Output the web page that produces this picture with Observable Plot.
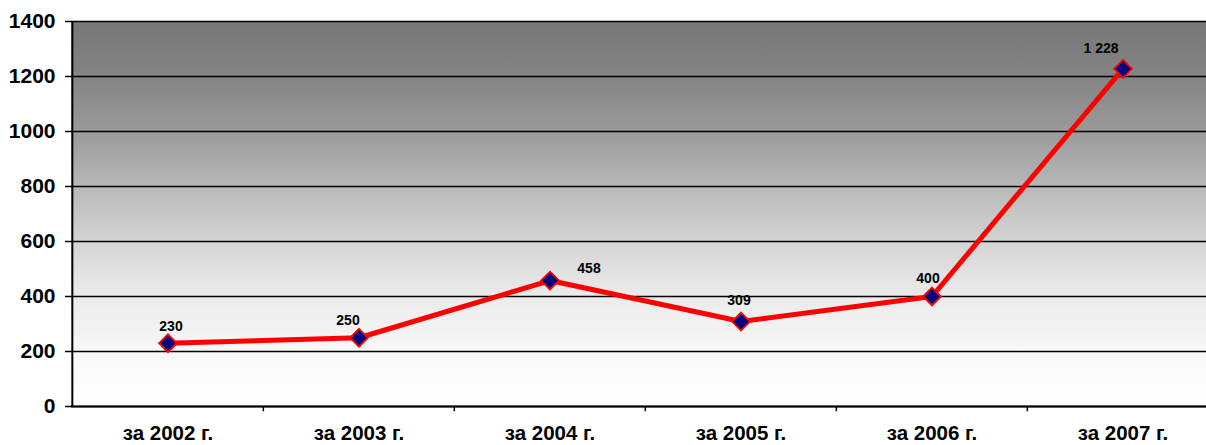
<!DOCTYPE html>
<html><head><meta charset="utf-8">
<script src="https://cdn.jsdelivr.net/npm/d3@7"></script>
<script src="https://cdn.jsdelivr.net/npm/@observablehq/plot@0.6"></script>
<style>html,body{margin:0;padding:0;overflow:hidden;background:#fff} svg{max-width:none !important;}</style>
</head><body><div id="chart"></div>
<script>
const years = ["за 2002 г.", "за 2003 г.", "за 2004 г.", "за 2005 г.", "за 2006 г.", "за 2007 г."];
const values = [230, 250, 458, 309, 400, 1228];
const valueLabels = ["230", "250", "458", "309", "400", "1 228"];
const yTicks = [0, 200, 400, 600, 800, 1000, 1200, 1400];

// label offsets (pixels) relative to each marker
const labelDx = [3, -11, 39, -2, -4, -22];
const labelDy = [-17, -17, -12, -21, -18, -20];

const data = years.map((y, i) => ({year: y, value: values[i], label: valueLabels[i]}));

const W = 1219, ML = 71;
const bw = (W - ML) / years.length;

const chart = Plot.plot({
  width: W, height: 445,
  marginLeft: ML, marginRight: 0, marginTop: 21, marginBottom: 39,
  style: {fontFamily: "'Liberation Sans', Arial, sans-serif", fontWeight: "bold", background: "transparent", color: "black", overflow: "visible", maxWidth: "none"},
  x: {type: "band", domain: years, padding: 0, label: null, axis: null},
  y: {domain: [0, 1400], label: null, axis: null},
  marks: [
    Plot.frame({fill: "url(#bgGrad)", stroke: null}),
    Plot.ruleY(yTicks, {stroke: "black", strokeWidth: 1.6}),
    Plot.ruleY([0], {stroke: "black", strokeWidth: 2}),
    Plot.ruleX([years[0]], {dx: -bw / 2, y1: 0, y2: 1400, stroke: "black", strokeWidth: 2}),
    Plot.axisY({ticks: yTicks, tickSize: 6, tickPadding: 10, fontSize: 21, fontWeight: "bold", tickFormat: d => String(d), stroke: "black", strokeWidth: 1.5}),
    Plot.axisX({tickSize: 0, tickPadding: 19, fontSize: 20.5, fontWeight: "bold"}),
    Plot.ruleX(years.slice(1), {x: d => d, dx: -bw / 2, y1: 0, y2: -19, stroke: "black", strokeWidth: 1.5}),
    Plot.line(data, {x: "year", y: "value", stroke: "#ff0000", strokeWidth: 5}),
    Plot.dot(data, {x: "year", y: "value", symbol: "diamond2", r: 8, fill: "#000080", stroke: "#ff0000", strokeWidth: 1.8}),
    ...data.map((d, i) => Plot.text([d], {x: "year", y: "value", text: "label", dx: labelDx[i], dy: labelDy[i], fontSize: 14, fontWeight: "bold", fill: "black"}))
  ]
});

const ns = "http://www.w3.org/2000/svg";
const defs = document.createElementNS(ns, "defs");
const grad = document.createElementNS(ns, "linearGradient");
grad.setAttribute("id", "bgGrad");
grad.setAttribute("x1", "0"); grad.setAttribute("y1", "0");
grad.setAttribute("x2", "0"); grad.setAttribute("y2", "1");
const stops = [[0, "#777777"], [0.143, "#848484"], [0.286, "#9a9a9a"], [0.429, "#b8b8b8"], [0.571, "#d4d4d4"], [0.714, "#ebebeb"], [0.857, "#f7f7f7"], [1, "#ffffff"]];
for (const [o, c] of stops) {
  const s = document.createElementNS(ns, "stop");
  s.setAttribute("offset", o);
  s.setAttribute("stop-color", c);
  grad.appendChild(s);
}
defs.appendChild(grad);
chart.insertBefore(defs, chart.firstChild);
document.getElementById("chart").appendChild(chart);
</script>
</body></html>
